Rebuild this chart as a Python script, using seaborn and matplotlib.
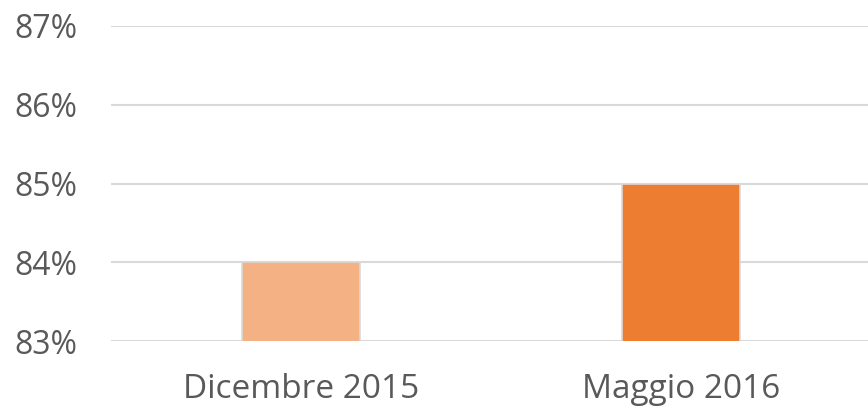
import pandas as pd
import matplotlib
matplotlib.use('Agg')
import matplotlib.pyplot as plt
import seaborn as sns

periods = ['Dicembre 2015', 'Maggio 2016']
values = [84, 85]
colors = ['#F4B183', '#ED7D31']
ticks = [83, 84, 85, 86, 87]

df = pd.DataFrame({'periodo': periods, 'valore': values})

sns.set_style('white')
plt.rcParams['font.family'] = ['Open Sans', 'DejaVu Sans']

fig = plt.figure(figsize=(8.68, 4.18), dpi=100)
ax = fig.add_axes([111/868, 77/418, 760/868, 315/418])

sns.barplot(data=df, x='periodo', y='valore', hue='periodo', palette=colors,
            saturation=1, width=0.31, edgecolor='#D9D9D9', linewidth=1.2,
            legend=False, ax=ax, zorder=3)

ax.set_ylim(83, 87)
ax.set_xlim(-0.5, 1.5)
ax.set_yticks(ticks)
ax.set_yticklabels([f'{t}%' for t in ticks])
ax.yaxis.grid(True, color='#D9D9D9', linewidth=1.5, zorder=0)
ax.set_axisbelow(True)
for s in ax.spines.values():
    s.set_visible(False)
ax.tick_params(axis='y', length=0, pad=24, labelsize=23, labelcolor='#595959')
ax.tick_params(axis='x', length=0, pad=23, labelsize=24, labelcolor='#595959')
ax.set_xlabel('')
ax.set_ylabel('')

fig.savefig('out.png', dpi=100)
